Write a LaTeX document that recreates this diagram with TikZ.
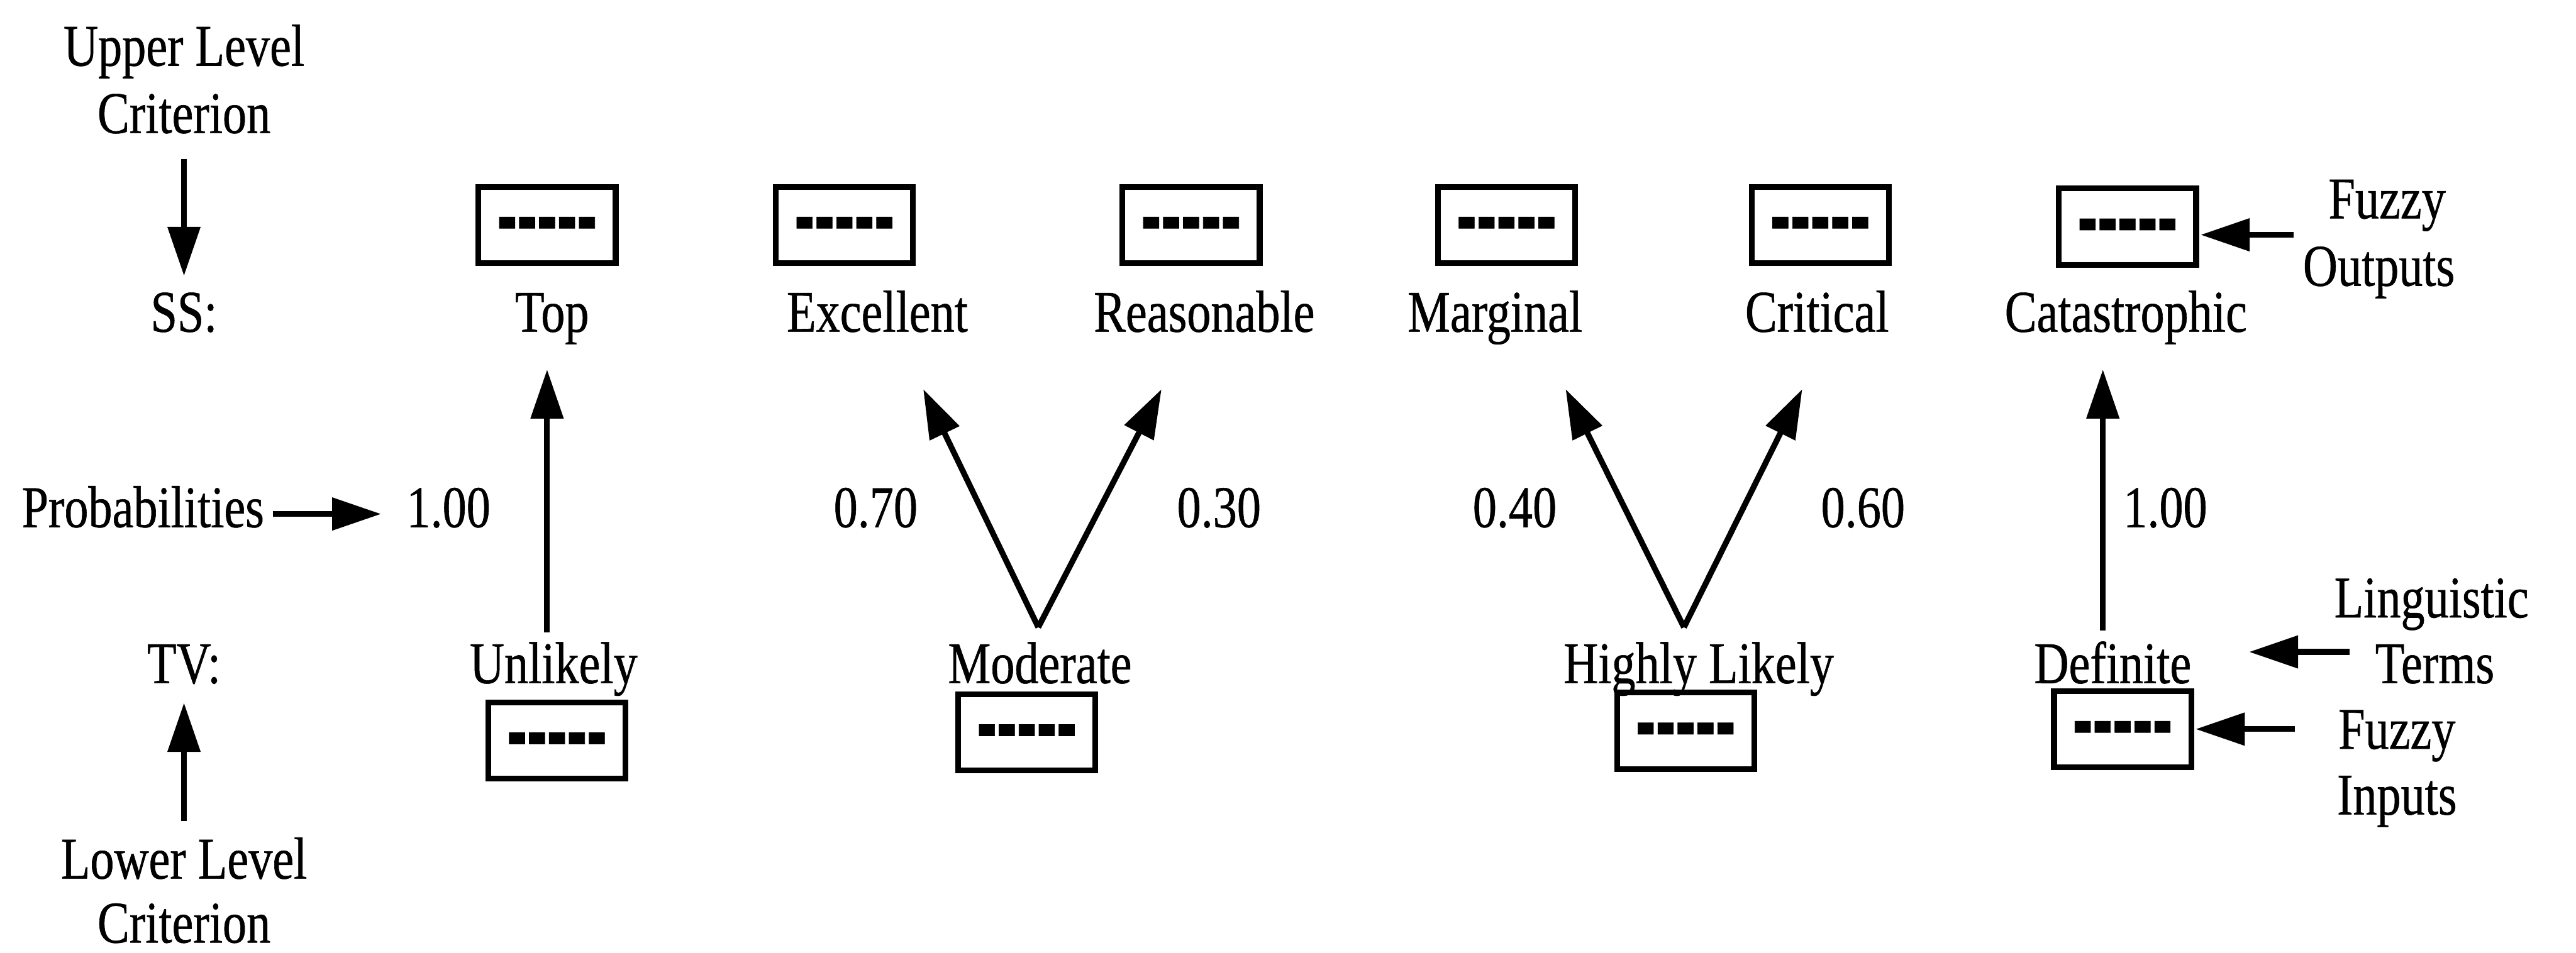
\documentclass[tikz,border=0pt]{standalone}
\usepackage{fontspec}
\usepackage{graphicx}
\setmainfont{Liberation Serif}[FakeStretch=0.81,FakeBold=0.6]
\usetikzlibrary{arrows.meta,calc}
% row of heavy dashes printed inside each fuzzy-number box (centred, no height)
\newcommand{\fzdashes}{\raisebox{-0.48em}[0pt][0pt]{\scalebox{1.25}[2.2]{\textbf{-{}-{}-{}-{}-}}}}
\begin{document}
\begin{tikzpicture}[x=0.02cm,y=-0.02cm,
  lbl/.style={inner sep=0pt, anchor=base, font=\fontsize{20.5}{23}\selectfont},
  fzbox/.style={draw, line width=2pt, minimum width=1.67cm, minimum height=0.93cm,
    inner sep=0pt, font=\fontsize{20.5}{23}\selectfont},
  arr/.style={line width=2pt, -{Triangle[length=17pt,width=11pt]}},
]
\useasboundingbox (0,0) rectangle (1568,580);

% left-hand legend
\node[lbl] (ulc1) at (112,40) {Upper Level};
\node[lbl] (ulc2) at (112,81) {Criterion};
\node[lbl] (ss) at (112,202) {SS:};
\node[lbl] (prob) at (87,321) {Probabilities};
\node[lbl] (tv) at (112,416) {TV:};
\node[lbl] (llc1) at (112,535) {Lower Level};
\node[lbl] (llc2) at (112,574) {Criterion};

% upper level: fuzzy output boxes and terms
\node[fzbox] (topb) at (333,137) {\fzdashes};
\node[fzbox] (excb) at (514,137) {\fzdashes};
\node[fzbox] (reab) at (725,137) {\fzdashes};
\node[fzbox] (marb) at (917,137) {\fzdashes};
\node[fzbox] (crib) at (1108,137) {\fzdashes};
\node[fzbox] (catb) at (1295,138) {\fzdashes};

\node[lbl] (top) at (336,202) {Top};
\node[lbl] (exc) at (534,202) {Excellent};
\node[lbl] (rea) at (733,202) {Reasonable};
\node[lbl] (mar) at (910,202) {Marginal};
\node[lbl] (cri) at (1106,202) {Critical};
\node[lbl] (cat) at (1294,202) {Catastrophic};

% probabilities
\node[lbl] (p1) at (273,321) {1.00};
\node[lbl] (p2) at (533,321) {0.70};
\node[lbl] (p3) at (742,321) {0.30};
\node[lbl] (p4) at (922,321) {0.40};
\node[lbl] (p5) at (1134,321) {0.60};
\node[lbl] (p6) at (1318,321) {1.00};

% lower level: terms and fuzzy input boxes
\node[lbl] (unl) at (337,416) {Unlikely};
\node[lbl] (mod) at (633,416) {Moderate};
\node[lbl] (hl) at (1034,416) {Highly Likely};
\node[lbl] (def) at (1286,416) {Definite};

\node[fzbox] (unlb) at (339,451) {\fzdashes};
\node[fzbox] (modb) at (625,446) {\fzdashes};
\node[fzbox] (hlb) at (1026,445) {\fzdashes};
\node[fzbox] (defb) at (1292,444) {\fzdashes};

% right-hand notes
\node[lbl] (fo1) at (1453,133) {Fuzzy};
\node[lbl] (fo2) at (1448,174) {Outputs};
\node[lbl] (lt1) at (1480,376) {Linguistic};
\node[lbl] (lt2) at (1482,416) {Terms};
\node[lbl] (fi1) at (1459,456) {Fuzzy};
\node[lbl] (fi2) at (1459,496) {Inputs};

% mapping arrows
\draw[arr] ($(unl.base)+(-4,-31)$) -- ($(top.base)+(-3,23)$);
\draw[arr] ($(mod.base)+(-1,-34)$) -- ($(exc.base)+(28,35)$);
\draw[arr] ($(mod.base)+(-1,-34)$) -- ($(rea.base)+(-26,35)$);
\draw[arr] ($(hl.base)+(-9,-34)$) -- ($(mar.base)+(43,35)$);
\draw[arr] ($(hl.base)+(-9,-34)$) -- ($(cri.base)+(-9,35)$);
\draw[arr] ($(def.base)+(-6,-32)$) -- ($(cat.base)+(-14,23)$);

% legend arrows
\draw[arr] ($(ulc2.base)+(0,16)$) -- ($(ss.base)+(0,-34)$);
\draw[arr] ($(llc1.base)+(0,-35)$) -- ($(tv.base)+(0,12)$);
\draw[arr] ($(prob.base)+(79,-8)$) -- ($(p1.base)+(-41,-8)$);
\draw[arr] ($(fo1.base)+(-57,10)$) -- ($(catb.east)+(1,5)$);
\draw[arr] ($(lt2.base)+(-52,-19)$) -- ($(def.base)+(83,-19)$);
\draw[arr] ($(fi1.base)+(-62,-12)$) -- ($(defb.east)+(1,0)$);
\end{tikzpicture}
\end{document}
